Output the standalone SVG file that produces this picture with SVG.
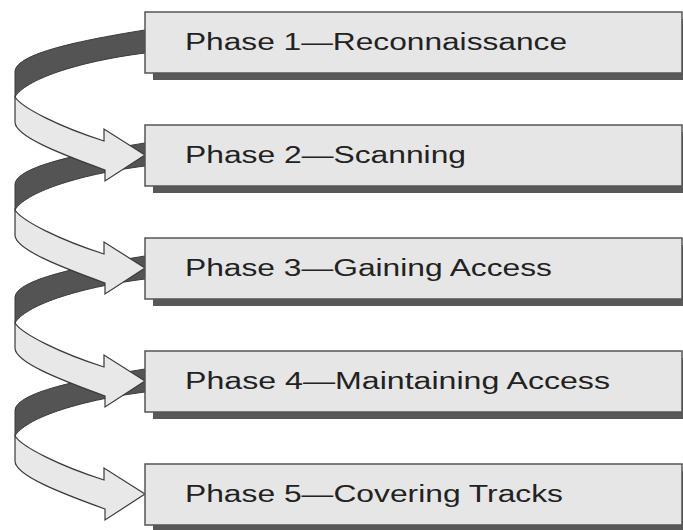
<svg xmlns="http://www.w3.org/2000/svg" width="683" height="530" viewBox="0 0 683 530">
<style>
.dark{fill:#545454;stroke:#3a3a3a;stroke-width:1}
.light{fill:#e8e8e8;stroke:#3a3a3a;stroke-width:1.2;stroke-linejoin:miter}
.shadow{fill:#585858}
.box{fill:#e6e6e6;stroke:#555;stroke-width:1.5}
.lbl{font-family:"Liberation Sans",Arial,sans-serif;font-size:23px;fill:#222}
</style>
<defs>
<path id="band" d="M145,30 C70,42 15,55 15,72 L15,97 C25,80 75,62 145,53 Z"/>
<path id="arrow" d="M15,97 C22,108 60,127 104,141 L104,129 L145,155 L105,181 L105,170 C58,153 15,136 15,122 Z"/>
</defs>
<rect width="683" height="530" fill="#fff"/>
<g id="connectors">
<use href="#band" class="dark"/>
<use href="#band" class="dark" transform="translate(0,113)"/>
<use href="#band" class="dark" transform="translate(0,226)"/>
<use href="#band" class="dark" transform="translate(0,339)"/>
<use href="#arrow" class="light"/>
<use href="#arrow" class="light" transform="translate(0,113)"/>
<use href="#arrow" class="light" transform="translate(0,226)"/>
<use href="#arrow" class="light" transform="translate(0,339)"/>
</g>
<g id="phase1">
<rect class="shadow" x="153" y="19" width="537" height="61"/>
<rect class="box" x="145" y="12" width="537" height="61"/>
<text class="lbl" x="185" y="50" textLength="382" lengthAdjust="spacingAndGlyphs">Phase 1—Reconnaissance</text>
</g>
<g id="phase2">
<rect class="shadow" x="153" y="132" width="537" height="61"/>
<rect class="box" x="145" y="125" width="537" height="61"/>
<text class="lbl" x="185" y="163" textLength="281" lengthAdjust="spacingAndGlyphs">Phase 2—Scanning</text>
</g>
<g id="phase3">
<rect class="shadow" x="153" y="245" width="537" height="61"/>
<rect class="box" x="145" y="238" width="537" height="61"/>
<text class="lbl" x="185" y="276" textLength="367" lengthAdjust="spacingAndGlyphs">Phase 3—Gaining Access</text>
</g>
<g id="phase4">
<rect class="shadow" x="153" y="358" width="537" height="61"/>
<rect class="box" x="145" y="351" width="537" height="61"/>
<text class="lbl" x="185" y="389" textLength="425" lengthAdjust="spacingAndGlyphs">Phase 4—Maintaining Access</text>
</g>
<g id="phase5">
<rect class="shadow" x="153" y="471" width="537" height="61"/>
<rect class="box" x="145" y="464" width="537" height="61"/>
<text class="lbl" x="185" y="502" textLength="378" lengthAdjust="spacingAndGlyphs">Phase 5—Covering Tracks</text>
</g>
</svg>
